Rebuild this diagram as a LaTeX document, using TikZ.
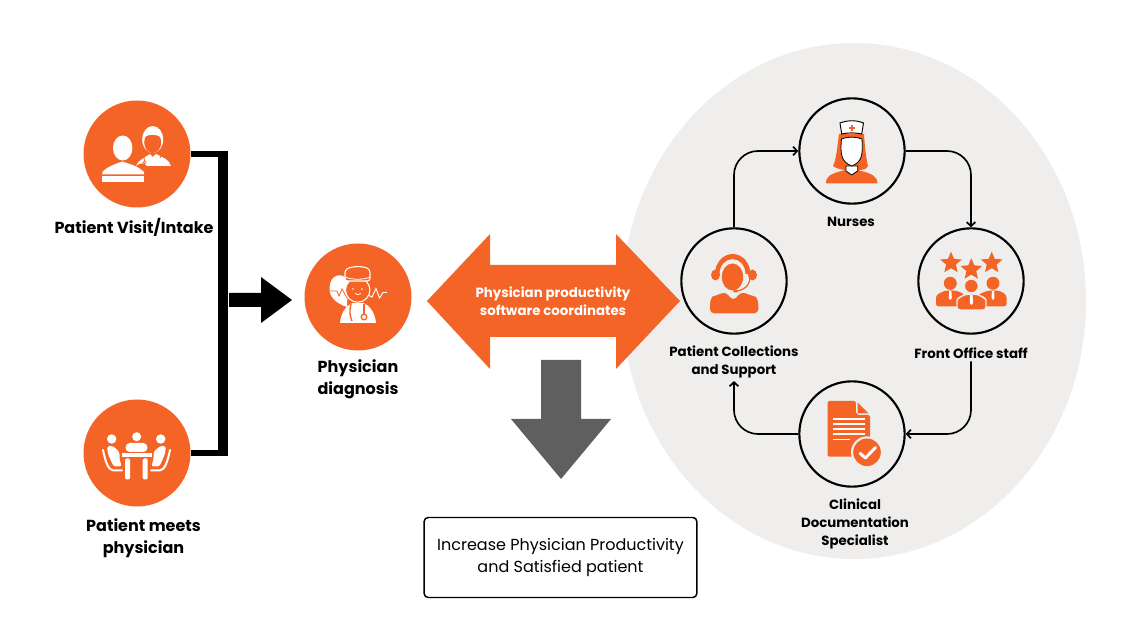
\documentclass[tikz,border=0pt]{standalone}
\usepackage{fontspec}
\setmainfont{Poppins}
\usetikzlibrary{arrows.meta,shapes.geometric}
\definecolor{org}{HTML}{F46427}
\definecolor{pale}{HTML}{EFEEED}
\definecolor{slate}{HTML}{5F5F5F}
\tikzset{
  x=0.75pt,y=-0.75pt,
  orgdisc/.style={circle,fill=org,inner sep=0pt,minimum size=80.25pt},
  ringdisc/.style={circle,draw=black,line width=1.6pt,inner sep=0pt,minimum size=79pt},
  biglabel/.style={font=\fontsize{12}{16.5}\selectfont\bfseries,align=center,text=black,inner sep=0pt},
  smalllabel/.style={font=\fontsize{10}{13.5}\selectfont\bfseries,align=center,text=black,inner sep=2pt},
  flow/.style={draw=black,line width=1.25pt,rounded corners=18pt,-{Straight Barb[length=3pt,width=6.5pt,line width=1.3pt]}},
  wht/.style={fill=white,draw=none},
  og/.style={fill=org,draw=none},
  starmark/.style={star,star points=5,star point ratio=2.2,fill=org,inner sep=0pt,minimum size=17pt},
}
\begin{document}
\begin{tikzpicture}
\useasboundingbox (0,0) rectangle (1140,641);
\fill[white] (0,0) rectangle (1140,641);
\fill[pale] (854,301) ellipse [x radius=232,y radius=258];

% discs
\node[orgdisc] (visit) at (137,154) {};
\node[orgdisc] (meets) at (137,453) {};
\node[orgdisc] (diag) at (358,297) {};
\node[ringdisc] (nurses) at (852,151) {};
\node[ringdisc] (collect) at (734,281) {};
\node[ringdisc] (front) at (971,281) {};
\node[ringdisc] (clin) at (852,434) {};

% labels
\node[biglabel] (lvisit) at (134,227) {Patient Visit/Intake};
\node[biglabel] (lmeets) at (143.5,538) {Patient meets\\physician};
\node[biglabel] (ldiag) at (358,379) {Physician\\diagnosis};
\node[smalllabel] (lnurses) at (851,222) {Nurses};
\node[smalllabel] (lcollect) at (734,362) {Patient Collections\\and Support};
\node[smalllabel] (lfront) at (971,353) {Front Office staff};
\node[smalllabel] (lclin) at (855,524) {Clinical\\Documentation\\Specialist};

% bracket
\coordinate (bt) at (223,154);
\coordinate (bb) at (223,453);
\draw[line width=4.8pt] (visit.east) -- (bt);
\draw[line width=5pt] (meets.east) -- (bb);
\draw[line width=7.5pt] ([yshift=2.4pt]bt) -- ([yshift=-2.6pt]bb);

% black arrow
\fill[black] (229,293) -- (261,293) -- (261,277) -- (292,300) -- (261,323) -- (261,307) -- (229,307) -- cycle;

% double arrow
\fill[org] (427,301) -- (490,234) -- (490,265) -- (616,265) -- (616,234) -- (680,301) -- (616,369) -- (616,337) -- (490,337) -- (490,369) -- cycle;
\node[font=\fontsize{10}{13.5}\selectfont\bfseries,text=white,align=center,inner sep=0pt] (lcoord) at (553,301) {Physician productivity\\software coordinates};

% grey arrow
\fill[slate] (541,360) -- (581,360) -- (581,419) -- (611,419) -- (561,479) -- (511,419) -- (541,419) -- cycle;

% outcome box
\node[draw=black,line width=1.1pt,rounded corners=3pt,minimum width=204.5pt,minimum height=60pt,inner sep=0pt,align=center,font=\fontsize{12}{16.5}\selectfont] (result) at (560.5,557.5) {\raisebox{-0.5pt}{Increase Physician Productivity}\\and Satisfied patient};

% cycle
\draw[flow] (collect.north) |- (nurses.west);
\draw[flow] (nurses.east) -| (front.north);
\draw[flow] (lfront.south) |- (clin.east);
\draw[flow] (clin.west) -| (lcollect.south);

% icon: visit
\fill[wht] (122.7,148) ellipse [x radius=9.7,y radius=12.5];
\fill[wht] (102.3,172) .. controls (108,166) and (116,164) .. (122,161.5) .. controls (130,164) and (138,166) .. (144,172) -- (144,174.5) -- (102.3,174.5) -- cycle;
\fill[wht] (102.3,176) rectangle (144,181.7);
\fill[wht] (136,166) .. controls (138,160) and (146,157) .. (150,154) -- (152.7,157) -- (156,154) .. controls (162,157) and (169,159) .. (171,166) -- (147,166) .. controls (145,163) and (140,162) .. (136,166) -- cycle;
\fill[wht] (152.7,139.5) ellipse [x radius=10.5,y radius=13.5];
\fill[org] (152.7,142.5) ellipse [x radius=8.5,y radius=10.5];
\fill[wht] (144,137) .. controls (148,130) and (158,130) .. (161,137) .. controls (155,134) and (150,134) .. (144,137) -- cycle;
\draw[org,line width=.6pt] (144,157) -- (144.5,161) (160,158) arc[start angle=180,end angle=360,radius=2];
\draw[org,line width=.6pt] (144.5,162.5) circle[radius=1.4];

% icon: meets
\fill[wht] (111.7,439) circle[radius=4.7];
\fill[wht] (136.7,436.7) circle[radius=4.5];
\fill[wht] (160.7,439) circle[radius=4.7];
\fill[wht,rounded corners=3pt] (125.7,452) -- (125.7,443) -- (147.3,443) -- (147.3,452) -- cycle;
\fill[wht] (121.7,453.3) rectangle (151.7,457.3);
\fill[wht,rounded corners=1pt] (125,458.5) rectangle (130,479.5);
\fill[wht,rounded corners=1pt] (142.7,458.5) rectangle (147.7,479.5);
\fill[wht,rounded corners=2pt] (107,446) -- (113,446) -- (119.5,452) -- (119.5,460) -- (122,466.5) -- (113.5,466.5) -- (108,454) -- cycle;
\fill[wht,rounded corners=2pt] (166,446) -- (160,446) -- (153.5,452) -- (153.5,460) -- (151,466.5) -- (159.5,466.5) -- (165,454) -- cycle;
\draw[white,line width=1.5pt,line cap=round] (103,450) .. controls (105,460) and (108,470) .. (113,470.5) -- (122,470.5);
\draw[white,line width=1.5pt,line cap=round] (170,450) .. controls (168,460) and (165,470) .. (160,470.5) -- (151,470.5);

% icon: physician
\fill[wht] (348,280) .. controls (342,272) and (330,274) .. (329.5,288) .. controls (329,298) and (338,304) .. (347,307) -- cycle;
\draw[org,line width=.6pt] (329.5,291) -- (337,291) -- (339,296) -- (342,289) -- (347,298);
\fill[wht] (340,323) .. controls (341,310) and (349,304) .. (353,303) -- (363,303) .. controls (369,305) and (375,312) .. (376,323) -- cycle;
\draw[white,line width=.8pt,fill=org] (357.7,290) circle[radius=12.2];
\draw[white,line width=.8pt,fill=org,rounded corners=2pt] (345,281) -- (345,270) .. controls (352,266) and (364,266) .. (370,270) -- (370,281) -- cycle;
\draw[white,line width=.6pt] (345,277) .. controls (352,280) and (364,280) .. (370,277);
\fill[wht] (353,289) circle[radius=.9] (362,289) circle[radius=.9];
\draw[white,line width=.6pt] (355,293.5) .. controls (357,295) and (359,295) .. (361,293.5);
\draw[white,line width=.7pt] (368,295) -- (372,297) -- (376,288.5) -- (379.5,298) -- (383,292.5) -- (387,292.5);
\draw[org,line width=1pt] (351,304) .. controls (349,312) and (350,316) .. (352,321);
\draw[org,line width=.8pt] (364,304) -- (364,314);
\draw[org,line width=1pt,fill=white] (364,317) circle[radius=2.8];

% icon: nurse
\fill[og] (839,134) .. controls (837,150) and (836,160) .. (833,166) .. controls (838,170) and (845,170) .. (848,170) -- (858,170) .. controls (862,170) and (866,170) .. (868,166) .. controls (866,158) and (865,148) .. (864,134) -- cycle;
\fill[og] (826,183.5) .. controls (826,176) and (830,174) .. (845,170) -- (852,175.5) -- (858,170) .. controls (873,174) and (877,176) .. (877.5,183.5) -- cycle;
\draw[black,line width=.6pt,fill=white] (846,166) -- (846,171) -- (851.7,175) -- (857.7,171) -- (857.7,166) -- cycle;
\draw[black,line width=.6pt,fill=white] (841.5,139) .. controls (847,136.5) and (856,136.5) .. (862,139) .. controls (863,155) and (862,162) .. (851.7,166) .. controls (841.5,162) and (840,155) .. (841.5,139) -- cycle;
\draw[black,line width=.7pt,fill=white] (840,123) .. controls (848,120) and (856,120) .. (863.5,123) -- (861.7,134) .. controls (855,132.5) and (848,132.5) .. (841.7,134) -- cycle;
\fill[og] (850.8,124.7) rectangle (853.3,131);
\fill[og] (848.9,126.6) rectangle (855.2,129.1);

% icon: headset
\fill[og] (715,274) arc[start angle=180,end angle=360,x radius=17.7,y radius=20] -- (745.5,274) arc[start angle=360,end angle=180,x radius=13,y radius=15] -- cycle;
\fill[og] (732.5,277) ellipse [x radius=10.7,y radius=13.5];
\fill[og] (715.5,275) ellipse [x radius=4.5,y radius=5.5];
\fill[og] (752.5,275) ellipse [x radius=4.5,y radius=5.5];
\draw[org,line width=.9pt] (750,278) .. controls (749,286) and (745,290) .. (736,291);
\fill[og,rounded corners=1pt] (733,289.8) rectangle (738,292.4);
\fill[og,rounded corners=3pt] (710,313.3) -- (710,300) .. controls (712,297) and (720,294) .. (725,291.7) -- (733.3,300.7) -- (741.7,291.7) .. controls (747,294) and (756,297) .. (758.3,300) -- (758.3,313.3) -- cycle;

% icon: front office
\node[starmark] (s1) at (951,263) {};
\node[starmark] (s2) at (971.3,269.5) {};
\node[starmark] (s3) at (991.7,263) {};
\fill[og] (950.3,283.3) circle[radius=6.5];
\fill[og] (993,283.3) circle[radius=6.5];
\fill[og,rounded corners=2pt] (936,306.5) -- (936,300) .. controls (936,294) and (943,291.5) .. (947,290.5) -- (955,290.5) .. controls (960,292) and (965,294) .. (966,300) -- (966,306.5) -- cycle;
\fill[og,rounded corners=2pt] (977,306.5) -- (977,300) .. controls (978,294) and (984,292) .. (989,290.5) -- (997,290.5) .. controls (1001,291.5) and (1006.5,294) .. (1006.5,300) -- (1006.5,306.5) -- cycle;
\draw[pale,line width=.8pt,fill=org] (971.3,286) circle[radius=6.9];
\draw[pale,line width=1.1pt,fill=org,rounded corners=2pt] (957,310) -- (957,303) .. controls (957,298) and (964,295) .. (968,294) -- (975,294) .. controls (979,295) and (986,298) .. (986,303) -- (986,310) -- cycle;
\fill[wht] (970.2,295) -- (972.6,295) -- (973,303) -- (971.4,305) -- (969.8,303) -- cycle;
\fill[wht] (949.2,291) -- (951.4,291) -- (951.8,298) -- (950.3,300) -- (948.8,298) -- cycle;
\fill[wht] (991.9,291) -- (994.1,291) -- (994.5,298) -- (993,300) -- (991.5,298) -- cycle;

% icon: document
\fill[og,rounded corners=1pt] (827.7,401) -- (855.7,401) -- (856,411) .. controls (856,413) and (858,415) .. (860,415) -- (870,415) -- (870,456.7) -- (827.7,456.7) -- cycle;
\fill[og] (857.5,402.5) -- (868.5,413.5) -- (857.5,413.5) -- cycle;
\foreach \yy/\xx in {419.3/865,424/865,429/865,434.3/865,439.7/850}{
  \fill[wht] (832.7,\yy-0.8) rectangle (\xx,\yy+0.8);
}
\fill[pale] (867,452.3) circle[radius=16];
\fill[og] (867,452.3) circle[radius=13.8];
\draw[white,line width=2.2pt,line cap=round,line join=round] (860,453.3) -- (865.5,458) -- (875.5,447.5);
\end{tikzpicture}
\end{document}
